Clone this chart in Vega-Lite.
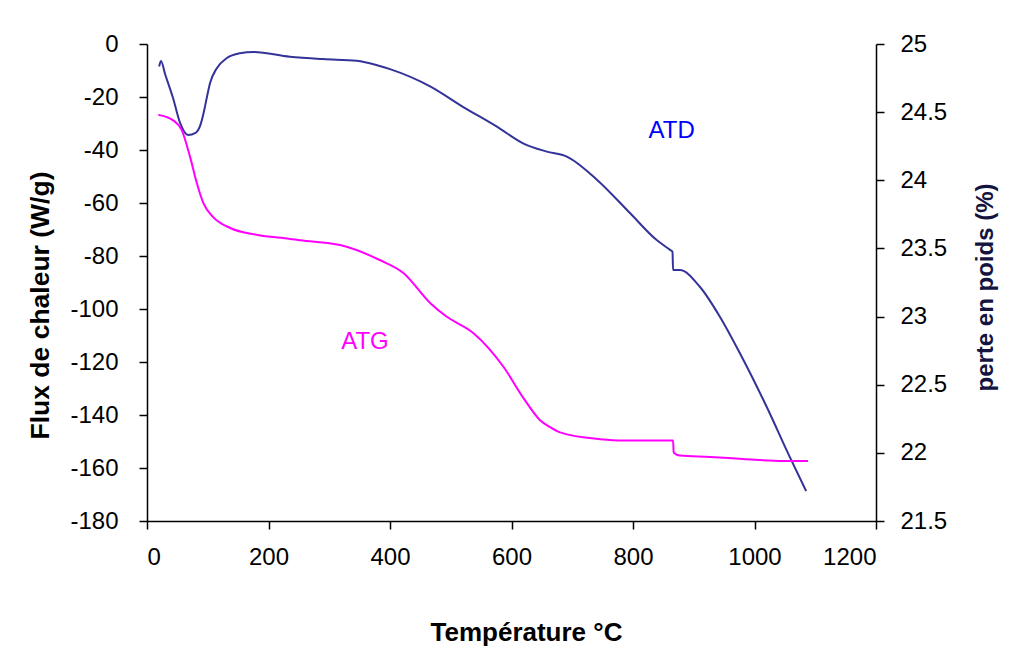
{
  "$schema": "https://vega.github.io/schema/vega-lite/v6.json",
  "width": 729,
  "height": 477,
  "autosize": {"type": "none"},
  "padding": {"left": 147, "top": 44, "right": 134, "bottom": 141},
  "background": "#ffffff",
  "config": {
    "view": {"stroke": null},
    "font": "Liberation Sans",
    "axis": {
      "grid": false,
      "domainColor": "#000000",
      "domainWidth": 1.5,
      "tickColor": "#000000",
      "tickWidth": 1.5,
      "tickSize": 8,
      "labelFont": "Liberation Sans",
      "labelFontSize": 24,
      "labelColor": "#000000",
      "titleFont": "Liberation Sans",
      "titleFontSize": 24,
      "titleFontWeight": "bold",
      "titleColor": "#000000"
    }
  },
  "datasets": {
    "atd": [
      {"T": 20, "flux": -8.5},
      {"T": 23, "flux": -6.4},
      {"T": 30, "flux": -11.5},
      {"T": 43, "flux": -20.5},
      {"T": 54, "flux": -29.5},
      {"T": 67.5, "flux": -34.3},
      {"T": 80, "flux": -33.5},
      {"T": 88, "flux": -30.5},
      {"T": 94, "flux": -25.2},
      {"T": 98.2, "flux": -20.5},
      {"T": 103.7, "flux": -14.8},
      {"T": 114.7, "flux": -9.2},
      {"T": 131, "flux": -5.4},
      {"T": 153, "flux": -3.5},
      {"T": 175, "flux": -3.0},
      {"T": 235, "flux": -4.8},
      {"T": 290, "flux": -5.7},
      {"T": 345, "flux": -6.3},
      {"T": 383, "flux": -8.3},
      {"T": 400, "flux": -9.5},
      {"T": 466, "flux": -16},
      {"T": 520, "flux": -23.7},
      {"T": 576, "flux": -31.2},
      {"T": 619, "flux": -37.5},
      {"T": 658, "flux": -40.6},
      {"T": 691, "flux": -42.5},
      {"T": 741, "flux": -51.3},
      {"T": 795, "flux": -63.8},
      {"T": 839, "flux": -74},
      {"T": 861, "flux": -77.7},
      {"T": 865, "flux": -78.4},
      {"T": 866, "flux": -85.3},
      {"T": 877, "flux": -85.3},
      {"T": 910, "flux": -91.6},
      {"T": 943, "flux": -102.9},
      {"T": 976, "flux": -116.7},
      {"T": 1020, "flux": -136.9},
      {"T": 1058, "flux": -155.8},
      {"T": 1085, "flux": -168.7}
    ],
    "atg": [
      {"T": 18.6, "perte": 24.48},
      {"T": 43, "perte": 24.44},
      {"T": 57, "perte": 24.37},
      {"T": 71, "perte": 24.17},
      {"T": 82, "perte": 23.98},
      {"T": 93, "perte": 23.83},
      {"T": 109, "perte": 23.73},
      {"T": 137, "perte": 23.65},
      {"T": 180, "perte": 23.6},
      {"T": 235, "perte": 23.57},
      {"T": 252, "perte": 23.56},
      {"T": 318, "perte": 23.525},
      {"T": 383, "perte": 23.415},
      {"T": 422, "perte": 23.32},
      {"T": 466, "perte": 23.1},
      {"T": 493, "perte": 23.0},
      {"T": 537, "perte": 22.88},
      {"T": 587, "perte": 22.63},
      {"T": 620, "perte": 22.4},
      {"T": 647, "perte": 22.24},
      {"T": 663, "perte": 22.19},
      {"T": 680, "perte": 22.15},
      {"T": 746, "perte": 22.1},
      {"T": 784, "perte": 22.09},
      {"T": 866, "perte": 22.09},
      {"T": 867, "perte": 22.0},
      {"T": 877, "perte": 21.98},
      {"T": 927, "perte": 21.97},
      {"T": 981, "perte": 21.955},
      {"T": 1047, "perte": 21.94},
      {"T": 1088, "perte": 21.94}
    ],
    "labels": [
      {"T": 863.7, "flux": -32.8, "label": "ATD", "serie": "ATD"},
      {"T": 358.8, "flux": -112.5, "label": "ATG", "serie": "ATG"}
    ]
  },
  "layer": [
    {
      "layer": [
        {
          "data": {"name": "atd"},
          "mark": {"type": "line", "color": "#333399", "strokeWidth": 2, "interpolate": "monotone"},
          "encoding": {
            "x": {
              "field": "T",
              "type": "quantitative",
              "scale": {"domain": [0, 1200], "nice": false, "zero": false},
              "axis": {
                "title": "Température °C",
                "values": [0, 200, 400, 600, 800, 1000, 1200],
                "labelExpr": "'' + datum.value",
                "labelPadding": 16,
                "titleFontSize": 26,
                "titleX": 379,
                "titleY": 111,
                "titleBaseline": "middle",
                "titleAnchor": "middle",
                "titleAlign": "center"
              }
            },
            "y": {
              "field": "flux",
              "type": "quantitative",
              "scale": {"domain": [-180, 0], "nice": false, "zero": false},
              "axis": {
                "title": "Flux de chaleur (W/g)",
                "values": [-180, -160, -140, -120, -100, -80, -60, -40, -20, 0],
                "labelExpr": "'' + datum.value",
                "labelPadding": 21,
                "titleFontSize": 26.5,
                "titleX": -107,
                "titleY": 261,
                "titleBaseline": "middle",
                "titleAlign": "center",
                "titleAngle": 270
              }
            }
          }
        },
        {
          "data": {"name": "labels"},
          "mark": {"type": "text", "font": "Liberation Sans", "fontSize": 24, "align": "center", "baseline": "middle"},
          "encoding": {
            "x": {"field": "T", "type": "quantitative"},
            "y": {"field": "flux", "type": "quantitative"},
            "text": {"field": "label", "type": "nominal"},
            "color": {
              "field": "serie",
              "type": "nominal",
              "scale": {"domain": ["ATD", "ATG"], "range": ["#0000FF", "#FF00FF"]},
              "legend": null
            }
          }
        }
      ]
    },
    {
      "data": {"name": "atg"},
      "mark": {"type": "line", "color": "#FF00FF", "strokeWidth": 2, "interpolate": "monotone"},
      "encoding": {
        "x": {"field": "T", "type": "quantitative"},
        "y": {
          "field": "perte",
          "type": "quantitative",
          "scale": {"domain": [21.5, 25], "nice": false, "zero": false},
          "axis": {
            "orient": "right",
            "title": "perte en poids (%)",
            "values": [21.5, 22, 22.5, 23, 23.5, 24, 24.5, 25],
            "labelExpr": "'' + datum.value",
            "labelPadding": 16,
            "titleX": 109,
            "titleY": 243,
            "titleBaseline": "middle",
            "titleAlign": "center",
            "titleAngle": 270,
            "titleColor": "#141440"
          }
        }
      }
    }
  ],
  "resolve": {"scale": {"y": "independent"}}
}
